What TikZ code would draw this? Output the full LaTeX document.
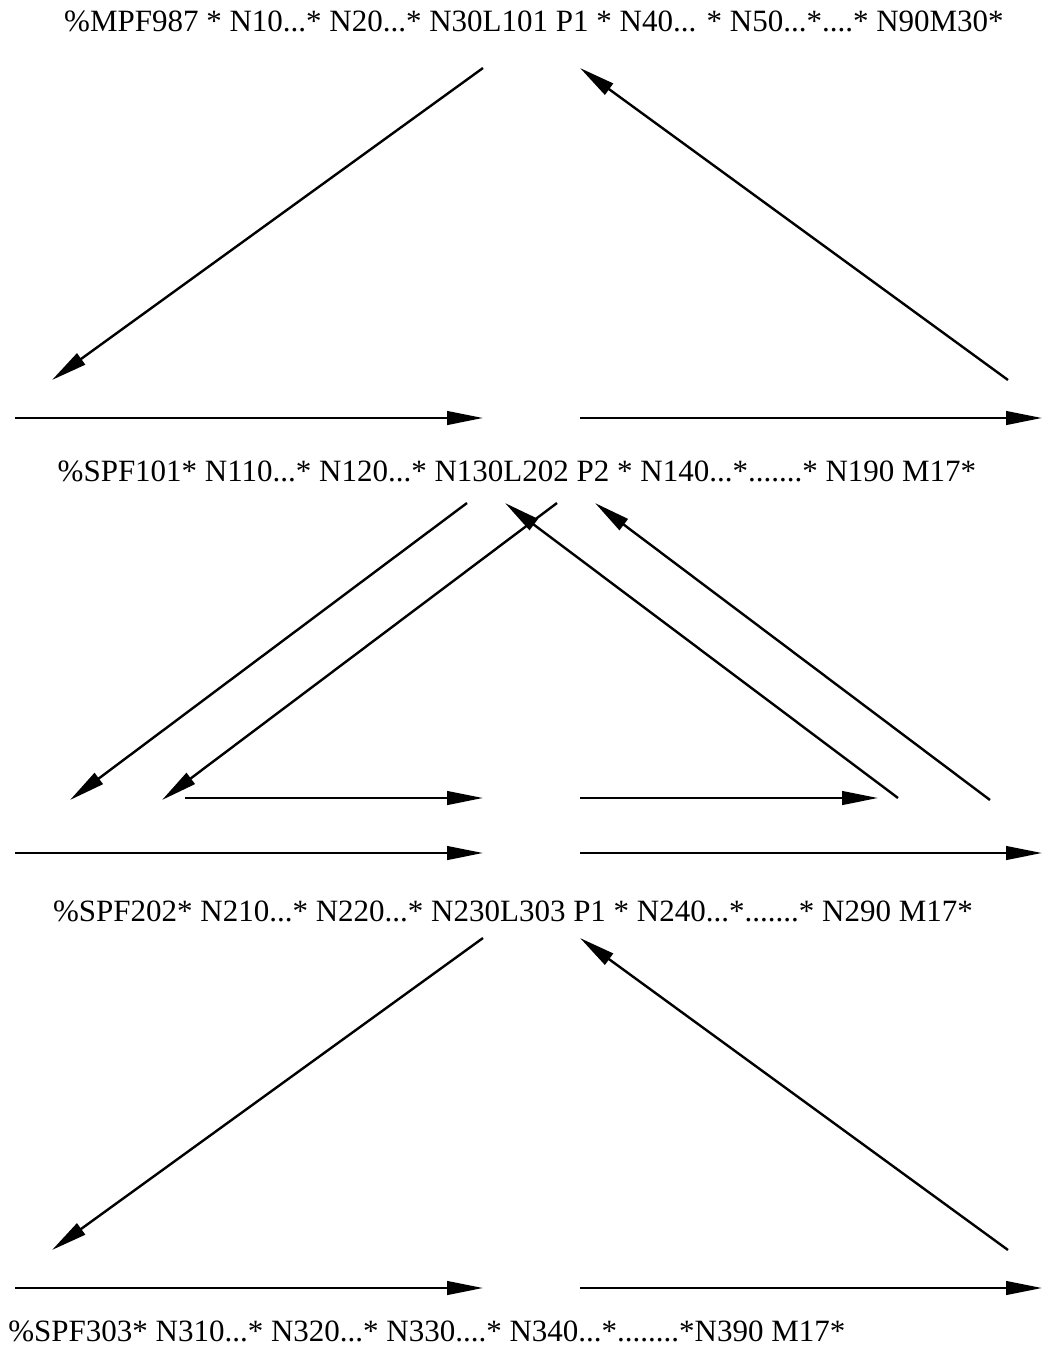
\documentclass[tikz,border=0pt]{standalone}
\usepackage{fontspec}
\setmainfont{Liberation Serif}
\usetikzlibrary{arrows.meta,positioning}

\begin{document}
\begin{tikzpicture}[
    x=0.5pt, y=-0.5pt,
    every node/.style={font=\fontsize{15.5}{18}\selectfont, inner sep=0pt},
    call/.style={anchor=base},
    arr/.style={-{Triangle[length=18pt, width=6.8pt]}, line width=1.2pt},
]
\useasboundingbox (0,0) rectangle (1042,1349);

% Nodes
\node[call] (mpf)    at (534,32)   {\%MPF987 * N10...* N20...* N30L101 P1 * N40... * N50...*....* N90M30*};
\node[call] (spf101) at (517,481)  {\%SPF101* N110...* N120...* N130L202 P2 * N140...*.......* N190 M17*};
\node[call] (spf202) at (513,921)  {\%SPF202* N210...* N220...* N230L303 P1 * N240...*.......* N290 M17*};
\node[call, anchor=base west] (spf303) at (8,1341) {\%SPF303* N310...* N320...* N330....* N340...*........*N390 M17*};

% Arrow ends, main program
\coordinate (a1) at (483,68);   \coordinate (a2) at (52,380);
\coordinate (a3) at (1008,380); \coordinate (a4) at (580,68);
\coordinate (a5) at (15,418);   \coordinate (a6) at (483,418);
\coordinate (a7) at (580,418);  \coordinate (a8) at (1042,418);
% Arrow ends, SPF101
\coordinate (b1) at (467,503);  \coordinate (b2) at (70,800);
\coordinate (b3) at (557,503);  \coordinate (b4) at (162,800);
\coordinate (b5) at (898,798);  \coordinate (b6) at (505,503);
\coordinate (b7) at (990,800);  \coordinate (b8) at (595,503);
\coordinate (c1) at (185,798);  \coordinate (c2) at (483,798);
\coordinate (c3) at (580,798);  \coordinate (c4) at (878,798);
\coordinate (c5) at (15,853);   \coordinate (c6) at (483,853);
\coordinate (c7) at (580,853);  \coordinate (c8) at (1042,853);
% Arrow ends, SPF202
\coordinate (d1) at (483,938);  \coordinate (d2) at (52,1250);
\coordinate (d3) at (1008,1250);\coordinate (d4) at (580,938);
\coordinate (d5) at (15,1288);  \coordinate (d6) at (483,1288);
\coordinate (d7) at (580,1288); \coordinate (d8) at (1042,1288);

% Arrows
\draw[arr] (a1) -- (a2);
\draw[arr] (a3) -- (a4);
\draw[arr] (a5) -- (a6);
\draw[arr] (a7) -- (a8);

\draw[arr] (b1) -- (b2);
\draw[arr] (b3) -- (b4);
\draw[arr] (b5) -- (b6);
\draw[arr] (b7) -- (b8);
\draw[arr] (c1) -- (c2);
\draw[arr] (c3) -- (c4);
\draw[arr] (c5) -- (c6);
\draw[arr] (c7) -- (c8);

\draw[arr] (d1) -- (d2);
\draw[arr] (d3) -- (d4);
\draw[arr] (d5) -- (d6);
\draw[arr] (d7) -- (d8);

\end{tikzpicture}
\end{document}
